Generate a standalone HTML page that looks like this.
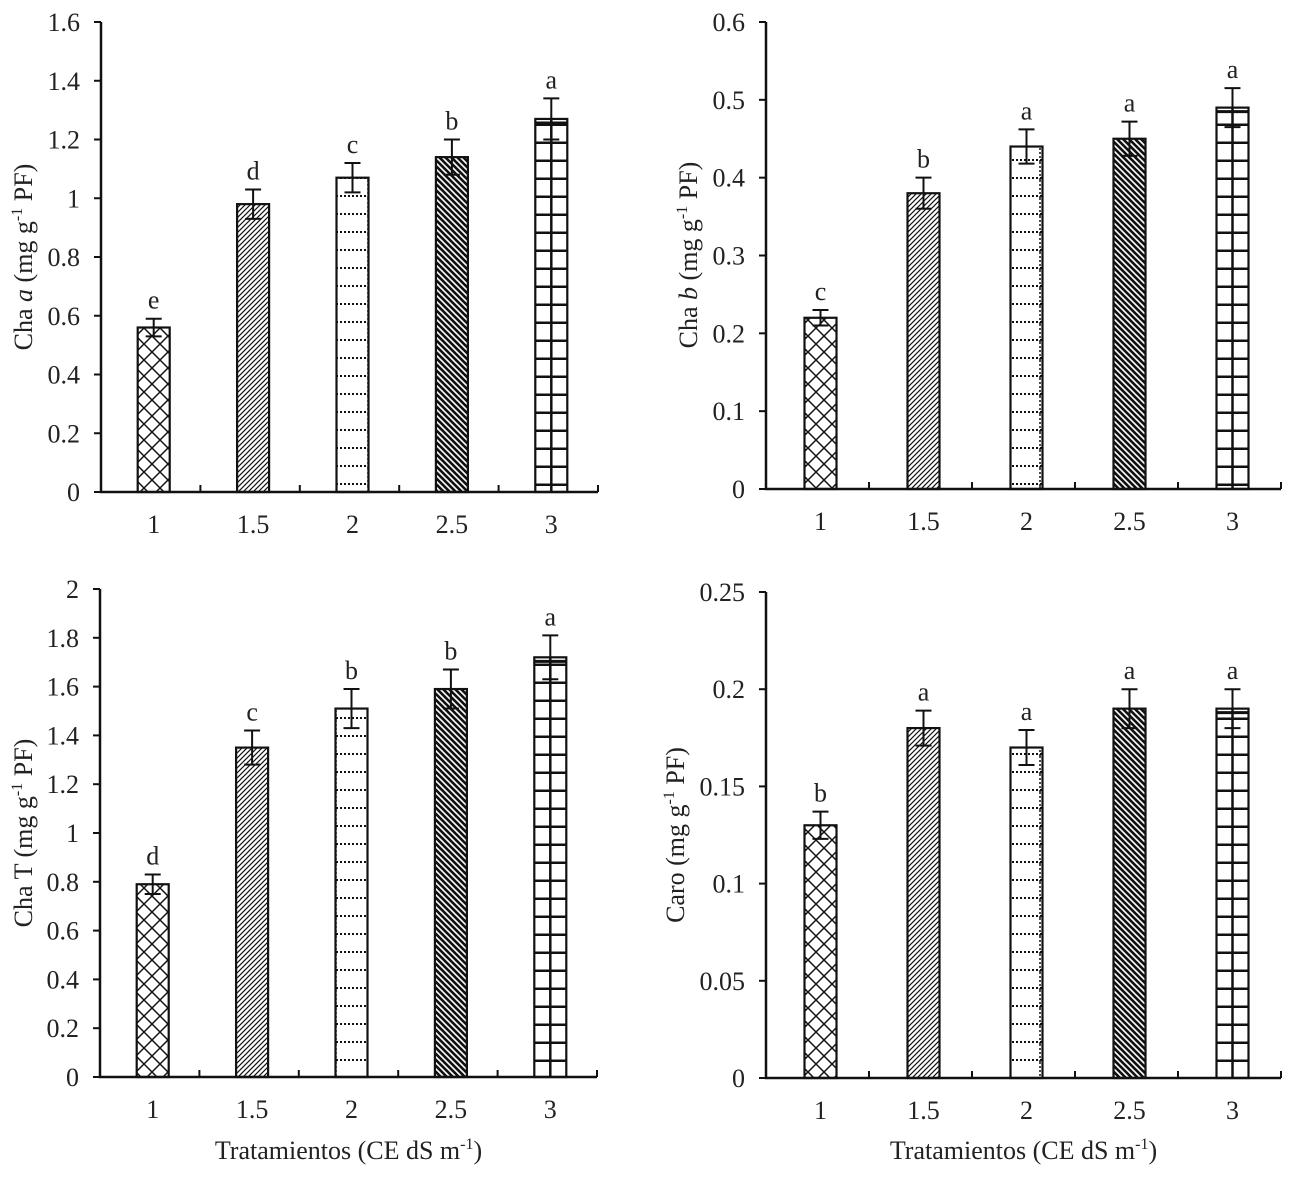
<!DOCTYPE html>
<html><head><meta charset="utf-8">
<style>
html,body{margin:0;padding:0;background:#fff;}
svg text{font-family:"Liberation Serif",serif;fill:#222;}
</style></head>
<body>
<svg id="fig" width="1307" height="1187" viewBox="0 0 1307 1187" xmlns="http://www.w3.org/2000/svg">
<defs>
<pattern id="p0" patternUnits="userSpaceOnUse" width="16" height="16"><path d="M0 8 L8 0 M8 16 L16 8 M0 8 L8 16 M8 0 L16 8" stroke="#111" stroke-width="1.5" fill="none"/></pattern>
<pattern id="p1" patternUnits="userSpaceOnUse" width="5" height="5"><path d="M-1 6 L6 -1 M-1 1 L1 -1 M4 6 L6 4" stroke="#111" stroke-width="1.2"/></pattern>
<pattern id="p2" patternUnits="userSpaceOnUse" width="32" height="18" x="0" y="0"><path d="M0 16 L32 16" stroke="#111" stroke-width="2" stroke-dasharray="2,2"/><path d="M16 0 L16 18" stroke="#111" stroke-width="1.5" stroke-dasharray="2,2"/></pattern>
<pattern id="p3" patternUnits="userSpaceOnUse" width="6" height="6"><path d="M-1 -1 L7 7 M-1 5 L1 7 M5 -1 L7 1" stroke="#111" stroke-width="2.6"/></pattern>
<pattern id="p4" patternUnits="userSpaceOnUse" width="40" height="18"><path d="M0 17 L40 17" stroke="#111" stroke-width="3"/></pattern>
</defs>
</svg>
<script>
const categories = ["1","1.5","2","2.5","3"];
const valsA = [0.56,0.98,1.07,1.14,1.27];
const errA = [0.03,0.05,0.05,0.06,0.07];
const letA = ["e","d","c","b","a"];
const ticksA = ["0","0.2","0.4","0.6","0.8","1","1.2","1.4","1.6"];
const valsB = [0.22,0.38,0.44,0.45,0.49];
const errB = [0.01,0.02,0.022,0.022,0.025];
const letB = ["c","b","a","a","a"];
const ticksB = ["0","0.1","0.2","0.3","0.4","0.5","0.6"];
const valsT = [0.79,1.35,1.51,1.59,1.72];
const errT = [0.04,0.07,0.08,0.08,0.09];
const letT = ["d","c","b","b","a"];
const ticksT = ["0","0.2","0.4","0.6","0.8","1","1.2","1.4","1.6","1.8","2"];
const valsC = [0.13,0.18,0.17,0.19,0.19];
const errC = [0.007,0.009,0.009,0.01,0.01];
const letC = ["b","a","a","a","a"];
const ticksC = ["0","0.05","0.1","0.15","0.2","0.25"];

const NS="http://www.w3.org/2000/svg";
const svg=document.getElementById('fig');
function mk(tag,attrs,parent){const e=document.createElementNS(NS,tag);for(const k in attrs)e.setAttribute(k,attrs[k]);(parent||svg).appendChild(e);return e;}

function panel(cfg){
  const g=mk('g',{});
  
  
  const max=parseFloat(cfg.ticks[cfg.ticks.length-1]);
  const y=v=>cfg.y0-(v/max)*(cfg.y0-cfg.y1);
  const step=(cfg.x1-cfg.x0)/categories.length;
  const xc=i=>cfg.x0+3+step*(i+0.5);
  cfg.vals.forEach((v,i)=>{
    const r=mk('rect',{x:xc(i)-16,y:y(v),width:32,height:cfg.y0-y(v),fill:'url(#p'+i+')',stroke:'#111','stroke-width':2.2},g);
    
    
    if(i===4){mk('line',{x1:xc(i),x2:xc(i),y1:y(v),y2:cfg.y0,stroke:'#111','stroke-width':2.5},g);
      mk('line',{x1:xc(i)-16,x2:xc(i)+16,y1:y(v)+4,y2:y(v)+4,stroke:'#111','stroke-width':3},g);}
    const e=cfg.err[i];
    const eb=mk('path',{d:`M${xc(i)} ${y(v+e)} L${xc(i)} ${y(v-e)} M${xc(i)-8} ${y(v+e)} L${xc(i)+8} ${y(v+e)} M${xc(i)-8} ${y(v-e)} L${xc(i)+8} ${y(v-e)}`,stroke:'#111','stroke-width':2,fill:'none'},g);
    
    
    const t=mk('text',{x:xc(i),y:y(v+e)-10,'text-anchor':'middle','font-size':26},g);
    t.textContent=cfg.lets[i];
    
    
    const xl=mk('text',{x:xc(i),y:cfg.y0+41,'text-anchor':'middle','font-size':26},g);
    xl.textContent=categories[i];
    
    
  });
  const ax=mk('path',{d:`M${cfg.x0} ${cfg.y1} L${cfg.x0} ${cfg.y0} L${cfg.x1} ${cfg.y0}`,stroke:'#111','stroke-width':2.5,fill:'none'},g);
  
  
  for(let i=1;i<=categories.length;i++){mk('line',{x1:cfg.x0+step*i,x2:cfg.x0+step*i,y1:cfg.y0,y2:cfg.y0-7,stroke:'#111','stroke-width':2},g);}
  cfg.ticks.forEach(tk=>{
    const yy=y(parseFloat(tk));
    mk('line',{x1:cfg.x0-7,x2:cfg.x0,y1:yy,y2:yy,stroke:'#111','stroke-width':2},g);
    const t=mk('text',{x:cfg.x0-21,y:yy+9,'text-anchor':'end','font-size':26},g);
    t.textContent=tk;
    
    
  });
  const yt=mk('text',{x:0,y:0,'text-anchor':'middle','font-size':26,transform:`translate(${cfg.tx},${cfg.ty}) rotate(-90)`},g);
  yt.innerHTML=cfg.title;
  
  
  if(cfg.xtitle){
    const xt=mk('text',{x:(cfg.x0+cfg.x1)/2,y:1159,'text-anchor':'middle','font-size':26},g);
    xt.innerHTML='Tratamientos (CE dS m<tspan dy="-10" font-size="16">-1</tspan><tspan dy="10">)</tspan>';
    
    
  }
}
const sup='g<tspan dy="-10" font-size="16">-1</tspan><tspan dy="10"> PF)</tspan>';
panel({name:'chart-cha-a',vals:valsA,err:errA,lets:letA,ticks:ticksA,x0:101,x1:598,y0:492,y1:22,tx:32,ty:257,title:'Cha <tspan font-style="italic">a</tspan> (mg '+sup});
panel({name:'chart-cha-b',vals:valsB,err:errB,lets:letB,ticks:ticksB,x0:766,x1:1281,y0:489,y1:22,tx:697,ty:255,title:'Cha <tspan font-style="italic">b</tspan> (mg '+sup});
panel({name:'chart-cha-t',vals:valsT,err:errT,lets:letT,ticks:ticksT,x0:100,x1:597,y0:1077,y1:589,tx:32,ty:833,title:'Cha T (mg '+sup,xtitle:true});
panel({name:'chart-caro',vals:valsC,err:errC,lets:letC,ticks:ticksC,x0:766,x1:1281,y0:1078,y1:592,tx:684,ty:835,title:'Caro (mg '+sup,xtitle:true});
</script>
</body></html>
